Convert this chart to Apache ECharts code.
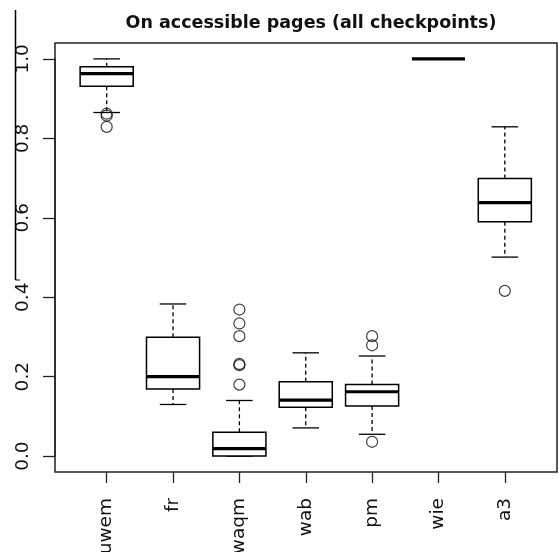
<!DOCTYPE html>
<html>
<head>
<meta charset="utf-8">
<script src="https://cdn.jsdelivr.net/npm/echarts@6/dist/echarts.min.js"></script>
<style>
  html, body { margin: 0; padding: 0; background: #fff; }
  #chart { width: 559px; height: 552px; }
</style>
</head>
<body>
<div id="chart"></div>
<script>
// values
const categories = ["uwem", "fr", "waqm", "wab", "pm", "wie", "a3"];
const lowerWhisker = [0.865, 0.130, 0.000, 0.071, 0.055, 1.000, 0.501];
const lowerQuartile = [0.931, 0.169, 0.000, 0.123, 0.126, 1.000, 0.590];
const medians = [0.963, 0.200, 0.019, 0.141, 0.162, 1.000, 0.638];
const upperQuartile = [0.980, 0.299, 0.060, 0.187, 0.180, 1.000, 0.699];
const upperWhisker = [1.000, 0.383, 0.140, 0.260, 0.252, 1.000, 0.829];
// [category index, value]
const outliers = [
  [0, 0.862], [0, 0.857], [0, 0.829],
  [2, 0.369], [2, 0.334], [2, 0.302], [2, 0.232], [2, 0.229], [2, 0.180],
  [4, 0.302], [4, 0.279], [4, 0.036],
  [6, 0.416]
];
const yMin = -0.04, yMax = 1.04;

const fontName = "DejaVu Sans";

// plot frame (R style, 4% padding on the value range)
const frame = { left: 55, top: 43, width: 502, height: 429 };
const pxPerUnit = frame.height / (yMax - yMin);

let boxRows = categories.map(function (c, i) {
  return [i, lowerWhisker[i], lowerQuartile[i], medians[i], upperQuartile[i], upperWhisker[i]];
});

function renderBox(params, api) {
  let i = api.value(0);
  let band = api.size([1, 0])[0];
  let half = band * 0.4;
  let staple = half / 2;
  let lw = api.coord([i, api.value(1)]);
  let q1 = api.coord([i, api.value(2)]);
  let md = api.coord([i, api.value(3)]);
  let q3 = api.coord([i, api.value(4)]);
  let uw = api.coord([i, api.value(5)]);
  let x = lw[0];
  let dash = { stroke: "#000", lineWidth: 1.3, lineDash: [4, 3] };
  let solid = { stroke: "#000", lineWidth: 1.3 };
  return {
    type: "group",
    children: [
      { type: "line", shape: { x1: x, y1: q3[1], x2: x, y2: uw[1] }, style: dash },
      { type: "line", shape: { x1: x, y1: q1[1], x2: x, y2: lw[1] }, style: dash },
      { type: "line", shape: { x1: x - staple, y1: uw[1], x2: x + staple, y2: uw[1] }, style: solid },
      { type: "line", shape: { x1: x - staple, y1: lw[1], x2: x + staple, y2: lw[1] }, style: solid },
      {
        type: "rect",
        shape: { x: x - half, y: q3[1], width: half * 2, height: q1[1] - q3[1] },
        style: { fill: "#fff", stroke: "#000", lineWidth: 1.5 }
      },
      { type: "line", shape: { x1: x - half, y1: md[1], x2: x + half, y2: md[1] }, style: { stroke: "#000", lineWidth: 3.2 } }
    ]
  };
}

var myChart = echarts.init(document.getElementById("chart"));

let option = {
  animation: false,
  backgroundColor: "#fff",
  title: {
    text: "On accessible pages (all checkpoints)",
    left: 306,
    top: 9,
    textAlign: "center",
    textStyle: { fontFamily: fontName, fontWeight: "bold", fontSize: 17.5, color: "#111" }
  },
  graphic: [
    { type: "line", shape: { x1: 15.5, y1: 10, x2: 15.5, y2: 280 }, style: { stroke: "#000", lineWidth: 1.5 } },
    { type: "line", shape: { x1: 15.5, y1: 280, x2: 20, y2: 280 }, style: { stroke: "#000", lineWidth: 1 } }
  ],
  grid: [
    {
      left: frame.left, top: frame.top, width: frame.width, height: frame.height,
      outerBoundsMode: "none", show: true, borderColor: "#222", borderWidth: 1.5, backgroundColor: "transparent"
    },
    { left: 73.5, top: frame.top, width: 464.5, height: frame.height, outerBoundsMode: "none" },
    // y axis spans 0..1 only, like R's axis()
    {
      left: frame.left, width: frame.width,
      top: frame.top + (yMax - 1) * pxPerUnit,
      height: pxPerUnit,
      outerBoundsMode: "none"
    }
  ],
  xAxis: [
    { gridIndex: 0, type: "value", show: false, min: 0, max: 1 },
    {
      gridIndex: 1,
      type: "category",
      data: categories,
      axisLine: { show: false, onZero: false },
      axisTick: { show: true, alignWithLabel: true, length: 11, lineStyle: { color: "#222", width: 1.3 } },
      axisLabel: { rotate: 90, margin: 26, fontFamily: fontName, fontSize: 18.5, color: "#111" }
    },
    { gridIndex: 2, type: "value", show: false, min: 0, max: 1 }
  ],
  yAxis: [
    { gridIndex: 0, type: "value", show: false, min: yMin, max: yMax },
    { gridIndex: 1, type: "value", show: false, min: yMin, max: yMax },
    {
      // ticks and axis line
      gridIndex: 2,
      type: "value",
      position: "left",
      min: 0,
      max: 1,
      interval: 0.2,
      splitLine: { show: false },
      axisLine: { show: true, onZero: false, lineStyle: { color: "#222", width: 1.5 } },
      axisTick: { show: true, length: 12, lineStyle: { color: "#222", width: 1.3 } },
      axisLabel: { show: false }
    },
    {
      // tick labels
      gridIndex: 2,
      type: "value",
      position: "left",
      offset: 0,
      min: 0,
      max: 1,
      interval: 0.2,
      splitLine: { show: false },
      axisLine: { show: false, onZero: false },
      axisTick: { show: false },
      axisLabel: {
        rotate: 90,
        margin: 22,
        formatter: function (v) { return v.toFixed(1); },
        fontFamily: fontName,
        fontSize: 18.5,
        color: "#111"
      }
    }
  ],
  series: [
    {
      type: "custom",
      xAxisIndex: 1,
      yAxisIndex: 1,
      renderItem: renderBox,
      encode: { x: 0, y: [1, 2, 3, 4, 5] },
      data: boxRows
    },
    {
      type: "scatter",
      xAxisIndex: 1,
      yAxisIndex: 1,
      symbol: "circle",
      symbolSize: 11,
      itemStyle: { color: "rgba(0,0,0,0)", borderColor: "#111", borderWidth: 1.2 },
      data: outliers
    }
  ]
};
myChart.setOption(option);
</script>
</body>
</html>
